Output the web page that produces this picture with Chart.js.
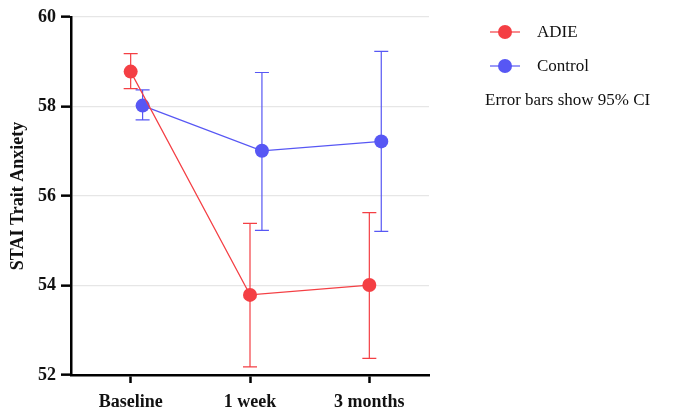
<!DOCTYPE html>
<html>
<head>
<meta charset="utf-8">
<script src="https://cdn.jsdelivr.net/npm/chart.js@4.4.1/dist/chart.umd.min.js"></script>
<style>
  html, body { margin: 0; padding: 0; background: #fff; }
  #wrap { position: relative; width: 674px; height: 412px; }
</style>
</head>
<body>
<div id="wrap"><canvas id="staiChart"></canvas></div>
<script>
// Datos
const momentos = ['Baseline', '1 week', '3 months'];
const adieMedia = [58.78, 53.79, 54.01];
const adieBajo  = [58.40, 52.18, 52.37];
const adieAlto  = [59.18, 55.39, 55.63];
const controlMedia = [58.02, 57.01, 57.22];
const controlBajo  = [57.70, 55.23, 55.21];
const controlAlto  = [58.37, 58.76, 59.23];
const ticksY = [52, 54, 56, 58, 60];

const ROJO = '#f43f44';
const AZUL = '#5757f4';
const fuente = "'Liberation Serif', 'Times New Roman', serif";
const desplazamiento = 0.1; // separación del grupo Control respecto a ADIE

function puntos(medias, bajos, altos, dx) {
    return medias.map((v, i) => ({ x: i + dx, y: v, lo: bajos[i], hi: altos[i] }));
}

// Plugin para dibujar barras de error (IC 95%)
const barrasError = {
    id: 'barrasError',
    beforeDatasetsDraw(chart) {
        const ctx = chart.ctx;
        const sx = chart.scales.x, sy = chart.scales.y;
        chart.data.datasets.forEach(ds => {
            ctx.save();
            ctx.strokeStyle = ds.borderColor;
            ctx.lineWidth = 1.2;
            ds.data.forEach(p => {
                const x = sx.getPixelForValue(p.x);
                const y1 = sy.getPixelForValue(p.lo);
                const y2 = sy.getPixelForValue(p.hi);
                ctx.beginPath();
                ctx.moveTo(x, y1); ctx.lineTo(x, y2);
                ctx.moveTo(x - 7, y1); ctx.lineTo(x + 7, y1);
                ctx.moveTo(x - 7, y2); ctx.lineTo(x + 7, y2);
                ctx.stroke();
            });
            ctx.restore();
        });
    }
};

// Leyenda a la derecha con línea + punto
const leyenda = {
    id: 'leyenda',
    afterDraw(chart) {
        const ctx = chart.ctx;
        ctx.save();
        ctx.font = '17px ' + fuente;
        ctx.textBaseline = 'middle';
        chart.data.datasets.forEach((ds, i) => {
            const y = 32 + i * 34;
            ctx.strokeStyle = ds.borderColor;
            ctx.lineWidth = 1.2;
            ctx.beginPath();
            ctx.moveTo(490, y); ctx.lineTo(520, y);
            ctx.stroke();
            ctx.fillStyle = ds.backgroundColor;
            ctx.beginPath();
            ctx.arc(505, y, 7, 0, Math.PI * 2);
            ctx.fill();
            ctx.fillStyle = '#111';
            ctx.fillText(ds.label, 537, y + 1);
        });
        ctx.fillStyle = '#111';
        ctx.fillText('Error bars show 95% CI', 485, 101);
        ctx.restore();
    }
};

const staiData = {
    datasets: [
        {
            label: 'ADIE',
            data: puntos(adieMedia, adieBajo, adieAlto, 0),
            borderColor: ROJO,
            backgroundColor: ROJO,
            borderWidth: 1.2,
            pointRadius: 7,
            pointHoverRadius: 7,
            pointBorderWidth: 0
        },
        {
            label: 'Control',
            data: puntos(controlMedia, controlBajo, controlAlto, desplazamiento),
            borderColor: AZUL,
            backgroundColor: AZUL,
            borderWidth: 1.2,
            pointRadius: 7,
            pointHoverRadius: 7,
            pointBorderWidth: 0
        }
    ]
};

const staiOptions = {
    responsive: true,
    maintainAspectRatio: false,
    animation: false,
    layout: { padding: { top: 17, right: 245, left: 0, bottom: 0 } },
    plugins: {
        legend: { display: false },
        tooltip: { enabled: false }
    },
    scales: {
        x: {
            type: 'linear',
            min: -0.5,
            max: momentos.length - 0.5,
            afterBuildTicks: s => { s.ticks = momentos.map((m, i) => ({ value: i })); },
            afterFit: s => { s.height = 37; },
            border: { color: '#000', width: 2.5 },
            grid: { drawOnChartArea: false, tickLength: 8, tickColor: '#000', tickWidth: 2.5 },
            ticks: {
                callback: v => momentos[v],
                color: '#111',
                padding: 9,
                font: { family: fuente, size: 18, weight: 'bold' }
            }
        },
        y: {
            min: 52,
            max: 60,
            afterBuildTicks: s => { s.ticks = ticksY.map(v => ({ value: v })); },
            afterFit: s => { s.width = 71; },
            border: { color: '#000', width: 2.5 },
            grid: { color: '#e6e6e6', lineWidth: 1.3, tickLength: 10, tickColor: '#000', tickWidth: 2.5 },
            ticks: {
                color: '#111',
                padding: 5,
                font: { family: fuente, size: 18, weight: 'bold' }
            },
            title: {
                display: true,
                text: 'STAI Trait Anxiety',
                color: '#111',
                padding: { top: 8, bottom: 0 },
                font: { family: fuente, size: 18, weight: 'bold' }
            }
        }
    }
};

new Chart(document.getElementById('staiChart').getContext('2d'), {
    type: 'line',
    data: staiData,
    options: staiOptions,
    plugins: [barrasError, leyenda]
});
</script>
</body>
</html>
